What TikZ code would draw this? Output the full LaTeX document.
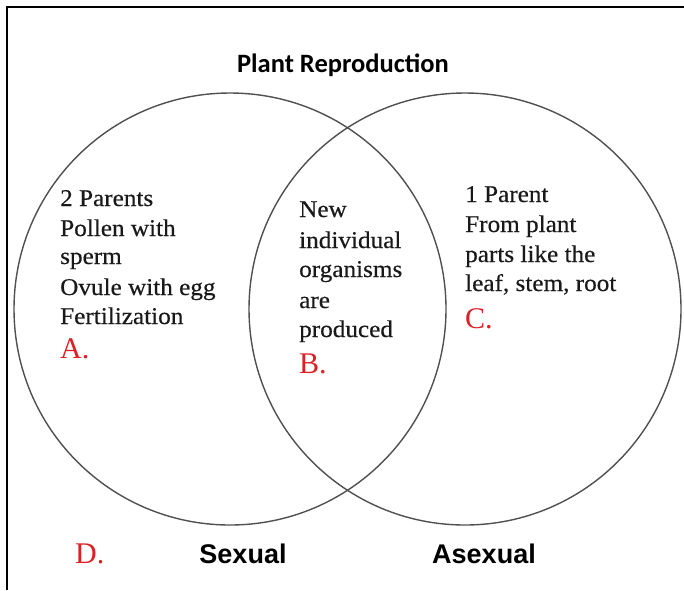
\documentclass[tikz,border=0pt]{standalone}
\usepackage{fontspec}
\setmainfont{Liberation Serif}
\newfontfamily\bodyfont[FakeStretch=1.05,FakeBold=0.4]{Liberation Serif}
\newfontfamily\titlefont{Carlito}
\newfontfamily\labfont{Liberation Sans}
\definecolor{lblred}{RGB}{222,32,38}
\definecolor{ringgray}{RGB}{80,80,80}
\tikzset{
  ring/.style={draw=ringgray, line width=1.4pt},
  frameline/.style={draw=black, line width=1.4pt},
  bodytext/.style={anchor=base west, inner sep=0pt, font=\bodyfont\fontsize{24}{28}\selectfont, text=black!90},
  lettertext/.style={anchor=base west, inner sep=0pt, font=\fontsize{30}{34}\selectfont, text=lblred},
  titletext/.style={anchor=base, inner sep=0pt, font=\titlefont\bfseries\fontsize{26.5}{30}\selectfont},
  settext/.style={anchor=base, inner sep=0pt, font=\labfont\bfseries\fontsize{27}{30}\selectfont},
}
\begin{document}
\begin{tikzpicture}[x=1pt,y=-1pt]
\useasboundingbox (0,0) rectangle (684,590);
\fill[white] (0,0) rectangle (684,590);
\coordinate (tl) at (7,7);
\coordinate (tr) at (684,7);
\coordinate (bl) at (7,590);
\draw[frameline] (tr) -- (tl) -- (bl);
\node[ring, circle, minimum size=432pt, inner sep=0pt] (sexc) at (230,309) {};
\node[ring, circle, minimum size=432pt, inner sep=0pt] (asexc) at (465,309) {};
\node[titletext] (title) at (343,72) {Plant Reproduction};
% left
\node[bodytext] (l1) at (60,206) {2 Parents};
\node[bodytext] (l2) at (60,236) {Pollen with};
\node[bodytext] (l3) at (60,264) {sperm};
\node[bodytext] (l4) at (60,295) {Ovule with egg};
\node[bodytext] (l5) at (60,324) {Fertilization};
\node[lettertext] (la) at (60,358) {A.};
% middle
\node[bodytext] (m1) at (299,217) {New};
\node[bodytext] (m2) at (299,248) {individual};
\node[bodytext] (m3) at (299,277) {organisms};
\node[bodytext] (m4) at (299,308) {are};
\node[bodytext] (m5) at (299,337) {produced};
\node[lettertext] (mb) at (299,373) {B.};
% right
\node[bodytext] (r1) at (465,202) {1 Parent};
\node[bodytext] (r2) at (465,232) {From plant};
\node[bodytext] (r3) at (465,262) {parts like the};
\node[bodytext] (r4) at (465,291) {leaf, stem, root};
\node[lettertext] (rc) at (465,328) {C.};
% bottom
\node[lettertext] (ld) at (75,563) {D.};
\node[settext] (sex) at (243,563) {Sexual};
\node[settext] (asex) at (484,563) {Asexual};
\end{tikzpicture}
\end{document}
